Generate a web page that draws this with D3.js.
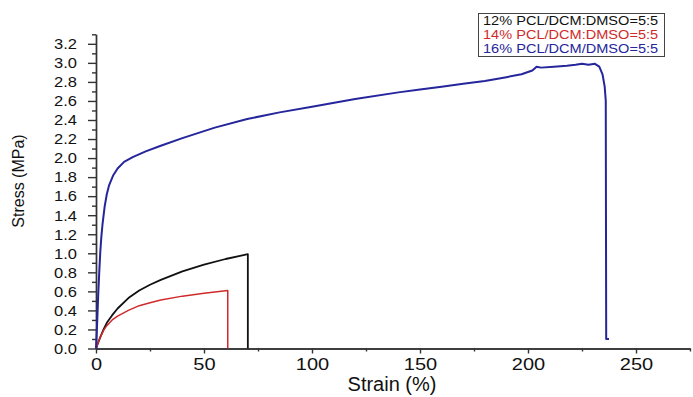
<!DOCTYPE html>
<html>
<head>
<meta charset="utf-8">
<script src="https://cdn.jsdelivr.net/npm/d3@7"></script>
<style>
  body { margin: 0; background: #fff; }
  svg { display: block; font-family: "Liberation Sans", Arial, sans-serif; }
</style>
</head>
<body>
<div id="chart-area"></div>
<script>
// tensile curves
var blackStrain = [0, 1, 2, 3.5, 5, 7.5, 10, 15, 20, 25, 30, 40, 50, 60, 70.3, 70.3];
var blackStress = [0, 0.06, 0.12, 0.2, 0.27, 0.35, 0.42, 0.53, 0.61, 0.67, 0.72, 0.81, 0.88, 0.94, 0.99, 0];

var redStrain = [0, 1, 2, 3.5, 5, 7.5, 10, 15, 20, 25, 30, 40, 50, 61, 61];
var redStress = [0, 0.06, 0.12, 0.19, 0.24, 0.3, 0.34, 0.4, 0.45, 0.48, 0.51, 0.55, 0.58, 0.61, 0];

var blueStrain = [0, 0.5, 1, 1.5, 2, 2.5, 3, 4, 5, 6, 8, 10, 13, 17, 23, 30, 40, 55, 70, 85, 100, 120, 140, 150, 160, 170, 180, 190, 197, 202, 204, 206, 212, 218, 222, 225, 228, 231, 233, 234.5, 235.5, 236, 236.2, 237.5];
var blueStress = [0, 0.25, 0.55, 0.8, 1.02, 1.18, 1.3, 1.49, 1.62, 1.71, 1.82, 1.89, 1.96, 2.01, 2.07, 2.13, 2.21, 2.32, 2.41, 2.48, 2.54, 2.62, 2.69, 2.72, 2.75, 2.78, 2.81, 2.85, 2.88, 2.92, 2.96, 2.95, 2.96, 2.97, 2.98, 2.99, 2.98, 2.99, 2.96, 2.88, 2.75, 2.6, 0.1, 0.1];

var legendLabels = ["12% PCL/DCM:DMSO=5:5", "14% PCL/DCM:DMSO=5:5", "16% PCL/DCM/DMSO=5:5"];
var seriesColors = ["#111111", "#d02a2a", "#25259c"];

var xMajor = [0, 50, 100, 150, 200, 250];
var xMinor = [25, 75, 125, 175, 225, 275];
var yMajor = [0, 0.2, 0.4, 0.6, 0.8, 1.0, 1.2, 1.4, 1.6, 1.8, 2.0, 2.2, 2.4, 2.6, 2.8, 3.0, 3.2];
var yMinor = [0.1, 0.3, 0.5, 0.7, 0.9, 1.1, 1.3, 1.5, 1.7, 1.9, 2.1, 2.3, 2.5, 2.7, 2.9, 3.1, 3.3];

var width = 693, height = 397;

var svg = d3.select("#chart-area")
	.append("svg")
		.attr("width", width)
		.attr("height", height);

var x = d3.scaleLinear().domain([0, 275]).range([96, 690]);
var y = d3.scaleLinear().domain([0, 3.3]).range([348.5, 34.3]);

// minor ticks first, majors on top
svg.append("g")
	.attr("transform", "translate(0," + y(0) + ")")
	.call(d3.axisBottom(x).tickValues(xMinor).tickSize(3).tickSizeOuter(0).tickFormat(""));
svg.append("g")
	.attr("transform", "translate(" + x(0) + ",0)")
	.call(d3.axisLeft(y).tickValues(yMinor).tickSize(4).tickSizeOuter(0).tickFormat(""));

var xAxis = svg.append("g")
	.attr("transform", "translate(0," + y(0) + ")")
	.call(d3.axisBottom(x).tickValues(xMajor).tickSize(5).tickSizeOuter(0).tickPadding(5));
xAxis.selectAll("text")
	.attr("font-size", "16px")
	.attr("fill", "#111")
	.attr("transform", "scale(1.25,1)");

var yAxis = svg.append("g")
	.attr("transform", "translate(" + x(0) + ",0)")
	.call(d3.axisLeft(y).tickValues(yMajor).tickSize(8).tickSizeOuter(0).tickPadding(11)
		.tickFormat(d3.format(".1f")));
yAxis.selectAll("text")
	.attr("font-size", "15px")
	.attr("fill", "#111")
	.attr("x", -19 / 1.1)
	.attr("transform", "scale(1.1,1)");

svg.selectAll(".domain, .tick line")
	.attr("stroke", "#333")
	.attr("stroke-width", 1.4);

// axis titles
svg.append("text")
	.attr("x", 392)
	.attr("y", 391)
	.attr("text-anchor", "middle")
	.attr("font-size", "20px")
	.attr("fill", "#111")
	.text("Strain (%)");

svg.append("text")
	.attr("transform", "translate(24,181) rotate(-90)")
	.attr("text-anchor", "middle")
	.attr("font-size", "16px")
	.attr("fill", "#111")
	.text("Stress (MPa)");

// curves
var line = d3.line()
	.x(function(d){ return x(d[0]); })
	.y(function(d){ return y(d[1]); });

var curves = [
	{ strain: blackStrain, stress: blackStress, color: seriesColors[0], w: 1.8 },
	{ strain: redStrain, stress: redStress, color: seriesColors[1], w: 1.5 },
	{ strain: blueStrain, stress: blueStress, color: seriesColors[2], w: 2 }
];

curves.forEach(function(c){
	var pts = c.strain.map(function(s, i){ return [s, c.stress[i]]; });
	svg.append("path")
		.datum(pts)
		.attr("fill", "none")
		.attr("stroke", c.color)
		.attr("stroke-width", c.w)
		.attr("stroke-linejoin", "round")
		.attr("d", line);
});

// legend
var legend = svg.append("g");
legend.append("rect")
	.attr("x", 478.5)
	.attr("y", 13.5)
	.attr("width", 186)
	.attr("height", 43)
	.attr("fill", "#fff")
	.attr("stroke", "#444")
	.attr("stroke-width", 1);

legend.selectAll("text.leg")
	.data(legendLabels)
	.enter()
	.append("text")
		.attr("class", "leg")
		.attr("transform", function(d, i){ return "translate(483," + (24.5 + i * 14) + ") scale(1.12,1)"; })
		.attr("font-size", "13px")
		.attr("fill", function(d, i){ return seriesColors[i]; })
		.text(function(d){ return d; });
</script>
</body>
</html>
